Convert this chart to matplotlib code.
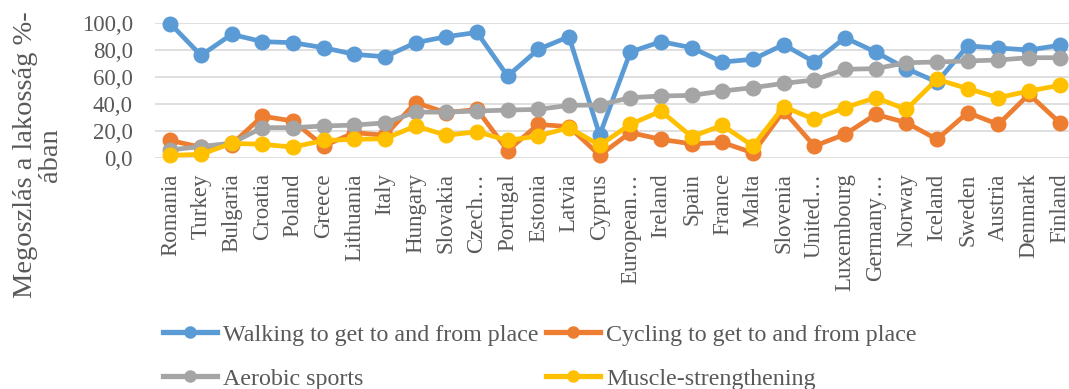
import matplotlib
matplotlib.use("Agg")
import matplotlib.pyplot as plt
from matplotlib.lines import Line2D

countries = ["Romania", "Turkey", "Bulgaria", "Croatia", "Poland", "Greece", "Lithuania",
             "Italy", "Hungary", "Slovakia", "Czech…", "Portugal", "Estonia", "Latvia",
             "Cyprus", "European…", "Ireland", "Spain", "France", "Malta", "Slovenia",
             "United…", "Luxembourg", "Germany…", "Norway", "Iceland", "Sweden", "Austria",
             "Denmark", "Finland"]

walking = [99.5, 76.0, 91.6, 86.2, 85.4, 81.7, 76.8, 75.0, 85.4, 89.9, 93.0, 60.7, 80.5, 89.9,
           17.0, 78.5, 86.2, 81.7, 71.1, 73.1, 84.0, 71.1, 89.1, 78.5, 66.2, 56.3, 83.0, 81.5,
           80.0, 83.5]
cycling = [13.0, 8.0, 10.0, 31.0, 27.4, 8.9, 18.8, 16.8, 41.0, 33.6, 36.0, 5.5, 24.9, 23.2,
           2.0, 18.8, 13.8, 10.5, 11.5, 3.8, 34.8, 8.9, 17.5, 32.3, 26.2, 13.8, 33.6, 24.9,
           47.2, 26.2]
aerobic = [6.0, 8.5, 11.0, 22.5, 22.5, 23.7, 24.4, 26.0, 34.0, 34.0, 34.8, 35.5, 36.0, 39.0,
           39.3, 44.7, 45.9, 46.4, 49.6, 52.1, 55.3, 57.8, 65.7, 66.2, 70.6, 71.1, 71.9, 72.6,
           74.3, 74.3]
muscle = [2.0, 2.7, 10.9, 10.1, 8.1, 13.0, 13.8, 14.3, 23.7, 16.8, 19.5, 13.0, 16.3, 22.5,
          9.4, 24.9, 34.8, 15.8, 24.2, 8.9, 38.0, 28.6, 37.3, 44.7, 36.0, 58.3, 51.4, 44.7,
          49.6, 53.8]

series_names = ["Walking to get to and from place", "Cycling to get to and from place",
                "Aerobic sports", "Muscle-strengthening"]
yticks = [0, 20, 40, 60, 80, 100]
ytick_labels = ["0,0", "20,0", "40,0", "60,0", "80,0", "100,0"]

colors = ["#5B9BD5", "#ED7D31", "#A5A5A5", "#FFC000"]
text_color = "#595959"
plt.rcParams["font.family"] = ["Liberation Serif", "DejaVu Serif"]

fig = plt.figure(figsize=(10.69, 3.89), dpi=100)
W, H = 1069, 389
left, right, top, bottom = 155, 1075, 23, 158
ax = fig.add_axes([left / W, 1 - bottom / H, (right - left) / W, (bottom - top) / H])

x = list(range(len(countries)))
for vals, c in zip([walking, cycling, aerobic, muscle], colors):
    ax.plot(x, vals, color=c, lw=3.4, marker="o", ms=10.5, clip_on=False,
            solid_capstyle="round", solid_joinstyle="round")

ax.set_xlim(-0.5, len(countries) - 0.5)
ax.set_ylim(0, 100)
ax.set_yticks(yticks)
ax.set_yticklabels(ytick_labels)
ax.set_xticks(x)
ax.set_xticklabels(countries, rotation=90)
ax.tick_params(axis="both", length=0, labelsize=16.5, labelcolor=text_color)
ax.tick_params(axis="y", pad=16)
ax.tick_params(axis="x", pad=11)
ax.grid(axis="y", color="#D9D9D9", lw=1.2)
ax.set_axisbelow(True)
for s in ax.spines.values():
    s.set_visible(False)

fig.text(38 / W, 1 - 155 / H, "Megoszlás a lakosság %-\nában", rotation=90, ha="center",
         va="center", fontsize=20.5, color=text_color, linespacing=1.0, multialignment="center")

handles = [Line2D([0], [0], color=c, lw=3.8, marker="o", ms=8) for c in colors]
order = [0, 2, 1, 3]
leg = fig.legend([handles[i] for i in order], [series_names[i] for i in order], ncol=2,
                 loc="upper left", bbox_to_anchor=(163 / W, 1 - 324 / H), frameon=False,
                 fontsize=17.3, handlelength=2.25, handletextpad=0.25, columnspacing=0.3,
                 labelspacing=0.92, borderaxespad=0, borderpad=0)
for t in leg.get_texts():
    t.set_color(text_color)

fig.savefig("out.png", dpi=100)
